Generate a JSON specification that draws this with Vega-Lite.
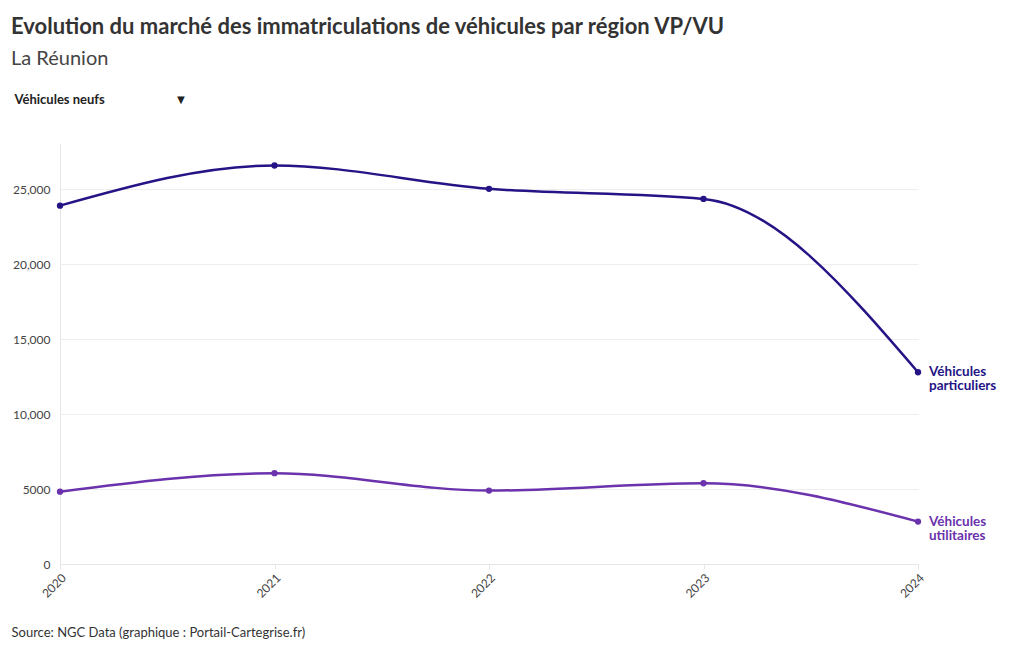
{
  "$schema": "https://vega.github.io/schema/vega-lite/v6.json",
  "width": 858,
  "height": 421,
  "autosize": {"type": "none"},
  "padding": {"left": 60, "top": 143, "right": 102, "bottom": 86},
  "background": "white",
  "config": {
    "font": "Lato",
    "view": {"stroke": null},
    "title": {"font": "Lato", "subtitleFont": "Lato"}
  },
  "title": {
    "text": "Evolution du marché des immatriculations de véhicules par région VP/VU",
    "subtitle": "La Réunion",
    "anchor": "start",
    "frame": "group",
    "dx": -49,
    "offset": 23,
    "fontSize": 22,
    "fontWeight": "bold",
    "color": "#333333",
    "subtitleFontSize": 20,
    "subtitleColor": "#444444",
    "subtitlePadding": 10
  },
  "data": {
    "values": [
      {"year": 2020, "type": "VP", "value": 23920, "label": "Véhicules\nparticuliers"},
      {"year": 2021, "type": "VP", "value": 26600, "label": "Véhicules\nparticuliers"},
      {"year": 2022, "type": "VP", "value": 25040, "label": "Véhicules\nparticuliers"},
      {"year": 2023, "type": "VP", "value": 24370, "label": "Véhicules\nparticuliers"},
      {"year": 2024, "type": "VP", "value": 12800, "label": "Véhicules\nparticuliers"},
      {"year": 2020, "type": "VU", "value": 4830, "label": "Véhicules\nutilitaires"},
      {"year": 2021, "type": "VU", "value": 6060, "label": "Véhicules\nutilitaires"},
      {"year": 2022, "type": "VU", "value": 4900, "label": "Véhicules\nutilitaires"},
      {"year": 2023, "type": "VU", "value": 5390, "label": "Véhicules\nutilitaires"},
      {"year": 2024, "type": "VU", "value": 2830, "label": "Véhicules\nutilitaires"}
    ]
  },
  "encoding": {
    "x": {
      "field": "year",
      "type": "quantitative",
      "scale": {"domain": [2020, 2024], "nice": false, "zero": false},
      "axis": {
        "values": [2020, 2021, 2022, 2023, 2024],
        "format": "d",
        "labelAngle": -45,
        "labelFontSize": 12,
        "labelColor": "#444444",
        "labelPadding": 3,
        "grid": false,
        "domainColor": "#e6e6e6",
        "tickColor": "#e6e6e6",
        "tickSize": 5,
        "title": "Source: NGC Data (graphique : Portail-Cartegrise.fr)",
        "titleX": -49,
        "titleY": 72,
        "titleAnchor": "start",
        "titleAlign": "left",
        "titleBaseline": "alphabetic",
        "titleFontSize": 13,
        "titleFontWeight": "normal",
        "titleColor": "#333333"
      }
    },
    "y": {
      "field": "value",
      "type": "quantitative",
      "scale": {"domain": [0, 28100], "nice": false},
      "axis": {
        "values": [0, 5000, 10000, 15000, 20000, 25000],
        "labelExpr": "datum.value >= 10000 ? format(datum.value, ',') : format(datum.value, 'd')",
        "labelFontSize": 12,
        "labelColor": "#444444",
        "labelPadding": 10,
        "ticks": false,
        "domainColor": "#e6e6e6",
        "gridColor": "#eeeeee",
        "title": "Véhicules neufs\u2003\u2003\u2003\u2003\u2003\u2003\u2003\u2009▼",
        "titleAngle": 0,
        "titleX": -46,
        "titleY": -44,
        "titleAlign": "left",
        "titleBaseline": "middle",
        "titleFontSize": 13,
        "titleFontWeight": "bold",
        "titleColor": "#222222"
      }
    },
    "color": {
      "field": "type",
      "type": "nominal",
      "scale": {"domain": ["VP", "VU"], "range": ["#241486", "#6a32ac"]},
      "legend": null
    }
  },
  "layer": [
    {"mark": {"type": "line", "interpolate": "monotone", "strokeWidth": 2.5}},
    {"mark": {"type": "point", "filled": true, "size": 40, "opacity": 1}},
    {
      "transform": [{"filter": "datum.year === 2024"}],
      "mark": {"type": "text", "align": "left", "baseline": "middle", "dx": 11, "fontSize": 13.5, "fontWeight": "bold", "lineBreak": "\n", "lineHeight": 14},
      "encoding": {"text": {"field": "label"}}
    }
  ]
}
